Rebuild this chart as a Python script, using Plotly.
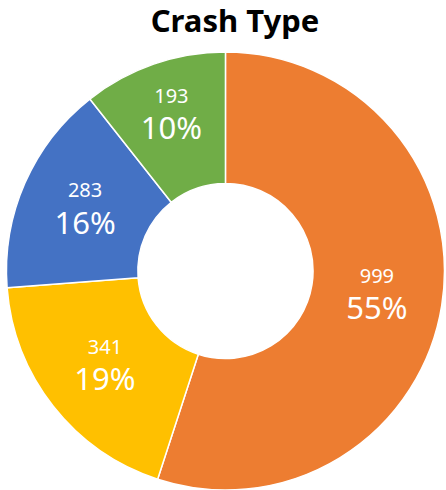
import plotly.graph_objects as go

categories = ["Type A", "Type B", "Type C", "Type D"]
counts = [999, 341, 283, 193]
percent_labels = ["55%", "19%", "16%", "10%"]
colors = ["#ED7D31", "#FFC000", "#4472C4", "#70AD47"]

texts = [
    f"<span style='font-size:20px'>{c}</span><br><span style='font-size:31px'>{p}</span>"
    for c, p in zip(counts, percent_labels)
]

fig = go.Figure(go.Pie(
    labels=categories,
    values=counts,
    text=texts,
    textinfo="text",
    texttemplate="%{text}",
    textposition="inside",
    insidetextorientation="horizontal",
    insidetextfont=dict(family="Noto Sans", size=28, color="white"),
    hole=0.40,
    sort=False,
    direction="clockwise",
    rotation=0,
    marker=dict(colors=colors, line=dict(color="white", width=1.5)),
    domain=dict(x=[0.011, 1.0], y=[0.0, 438 / 490]),
    showlegend=False,
    hoverinfo="skip",
))

fig.update_layout(
    width=446,
    height=490,
    margin=dict(l=0, r=0, t=0, b=0),
    paper_bgcolor="white",
    plot_bgcolor="white",
    title=dict(
        text="<b>Crash Type</b>",
        font=dict(family="Noto Sans", size=31, color="black"),
        x=235 / 446,
        xanchor="center",
        y=1 - 21 / 490,
        yanchor="middle",
    ),
)

fig.write_html(
    "out.html",
    config={"displayModeBar": False},
    post_script="document.body.style.margin='0px';",
)
